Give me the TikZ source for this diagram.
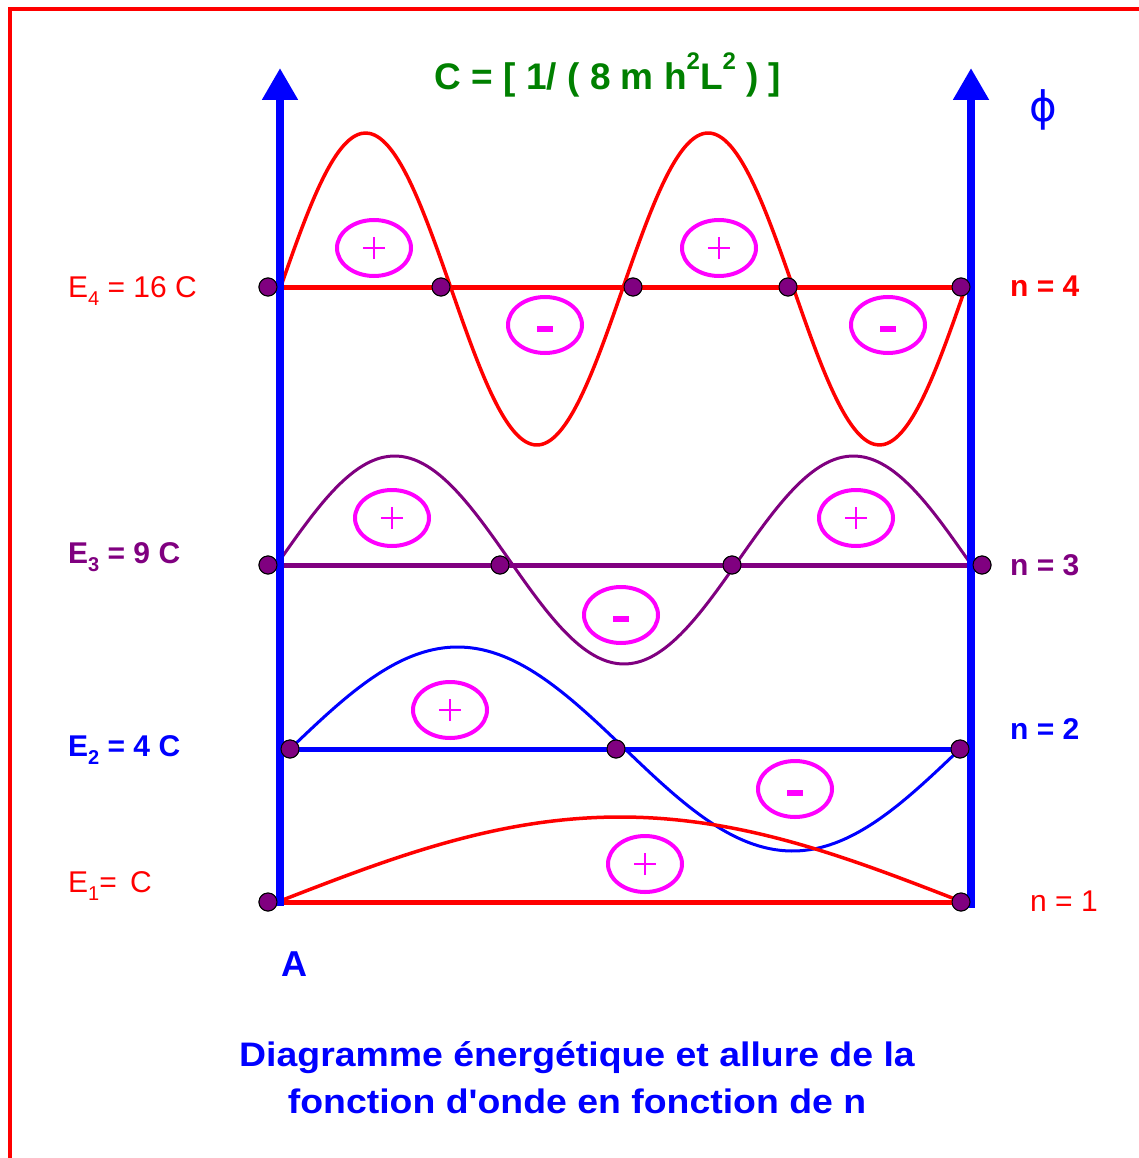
\documentclass[tikz,border=0pt]{standalone}
\usepackage{fontspec}
\setmainfont{Liberation Sans}
\newfontfamily\symfont{DejaVu Sans}
\newfontfamily\widefont[FakeStretch=1.1]{Liberation Sans}
\usetikzlibrary{arrows.meta,shapes.geometric}
\definecolor{rd}{RGB}{255,0,0}
\definecolor{bl}{RGB}{0,0,255}
\definecolor{vio}{RGB}{128,0,128}
\definecolor{mag}{RGB}{255,0,255}
\definecolor{grn}{RGB}{0,128,0}
\newcommand{\sbx}[1]{\raisebox{-0.28em}{\fontsize{20}{20}\selectfont #1}}
\newcommand{\spx}[1]{\raisebox{0.55em}{\fontsize{24}{24}\selectfont #1}}
\begin{document}
\begin{tikzpicture}[x=1pt,y=-1pt,
  dot/.style={circle,fill=vio,draw=black,line width=1pt,inner sep=0pt,minimum size=18pt},
  lvl/.style={line width=5pt},
  wave/.style={line width=3.5pt,line join=round},
  lobe/.style={ellipse,draw=mag,line width=4pt,minimum width=74pt,minimum height=56pt,inner sep=0pt},
  axisline/.style={draw=bl,line width=8pt,-{Triangle[width=34pt,length=32pt]}},
  lbl/.style={font=\fontsize{30}{36}\selectfont,anchor=base west,inner sep=0pt},
  blbl/.style={font=\bfseries\fontsize{30}{36}\selectfont,anchor=base west,inner sep=0pt}
]
\useasboundingbox (0,0) rectangle (1138,1158);
\fill[white] (0,0) rectangle (1138,1158);
\draw[rd,line width=4pt] (10,9) rectangle (1170,1185);

% coordinates for axes
\coordinate (Lb) at (280,906);
\coordinate (Lt) at (280,68);
\coordinate (Rb) at (971,908);
\coordinate (Rt) at (971,68);

% dots
\node[dot] (d41) at (268,287) {};
\node[dot] (d42) at (441,287) {};
\node[dot] (d43) at (633,287) {};
\node[dot] (d44) at (788,287) {};
\node[dot] (d45) at (961,287) {};
\node[dot] (d31) at (268,565) {};
\node[dot] (d32) at (500,565) {};
\node[dot] (d33) at (732,565) {};
\node[dot] (d34) at (982,565) {};
\node[dot] (d21) at (290,749) {};
\node[dot] (d22) at (616,749) {};
\node[dot] (d23) at (960,749) {};
\node[dot] (d11) at (268,902) {};
\node[dot] (d12) at (961,902) {};

% level lines
\draw[lvl,rd] (d41.center) -- (d45.center);
\draw[lvl,vio] (d31.center) -- (968,565);
\draw[lvl,bl] (d21.center) -- (d23.center);
\draw[lvl,rd] (d11.center) -- (d12.center);

% wave functions
\draw[wave,rd] plot[domain=280:965,samples=160,smooth] (\x,{289-156*sin((720/685)*(\x-280))});
\draw[wave,vio,line width=3pt] plot[domain=280:968,samples=160,smooth] (\x,{560-104*sin((540/688)*(\x-280))});
\draw[wave,bl,line width=3pt] plot[domain=290:960,samples=160,smooth] (\x,{749-102*sin((360/670)*(\x-290))});
\draw[wave,rd] plot[domain=280:960,samples=120,smooth] (\x,{901-84*sin((180/680)*(\x-280))});

% axes
\draw[axisline] (Lb) -- (Lt);
\draw[axisline] (Rb) -- (Rt);

% redraw dots on top
\foreach \d in {d41,d42,d43,d44,d45,d31,d32,d33,d34,d21,d22,d23,d11,d12}
  \node[dot] at (\d.center) {};

% lobes
\node[lobe] (p41) at (374,248) {};
\node[lobe] (m41) at (545,325) {};
\node[lobe] (p42) at (719,248) {};
\node[lobe] (m42) at (888,325) {};
\node[lobe] (p31) at (392,518) {};
\node[lobe] (m31) at (621,615) {};
\node[lobe] (p32) at (856,518) {};
\node[lobe] (p21) at (450,710) {};
\node[lobe] (m21) at (795,789) {};
\node[lobe] (p11) at (645,864) {};
\foreach \p in {p41,p42,p31,p32,p21,p11}{
  \draw[mag,line width=1.6pt] ([xshift=-11pt]\p.center) -- ([xshift=11pt]\p.center);
  \draw[mag,line width=1.6pt] ([yshift=-11pt]\p.center) -- ([yshift=11pt]\p.center);
}
\foreach \m in {m41,m42,m31,m21}
  \fill[mag] ([xshift=-8pt,yshift=-1pt]\m.center) rectangle ([xshift=8pt,yshift=-7pt]\m.center);

% energy labels
\node[lbl,text=rd] (e4) at (68,297) {E\sbx{4} = 16 C};
\node[blbl,text=vio] (e3) at (68,563) {E\sbx{3} = 9 C};
\node[blbl,text=bl] (e2) at (68,756) {E\sbx{2} = 4 C};
\node[lbl,text=rd] (e1) at (68,892) {E\sbx{1}= \,C};

\node[blbl,text=rd] (n4) at (1010,296) {n = 4};
\node[blbl,text=vio] (n3) at (1010,575) {n = 3};
\node[blbl,text=bl] (n2) at (1010,739) {n = 2};
\node[lbl,text=rd] (n1) at (1030,911) {n = 1};

\node[font=\bfseries\fontsize{36}{40}\selectfont,text=bl,anchor=base,inner sep=0pt] (A) at (294,976) {A};
\node[font=\symfont\fontsize{42}{44}\selectfont,text=bl,inner sep=0pt] (phi) at (1043,110) {ϕ};

\node[font=\bfseries\fontsize{37}{40}\selectfont,text=grn,anchor=base,inner sep=0pt] (title) at (608,90)
  {C = [ 1/ ( 8 m h\spx{2}L\spx{2} ) ]};

\node[font=\widefont\bfseries\fontsize{34}{47}\selectfont,text=bl,align=center,anchor=base,inner sep=0pt] (cap) at (577,1113)
  {Diagramme énergétique et allure de la\\fonction d'onde en fonction de n};
\end{tikzpicture}
\end{document}
